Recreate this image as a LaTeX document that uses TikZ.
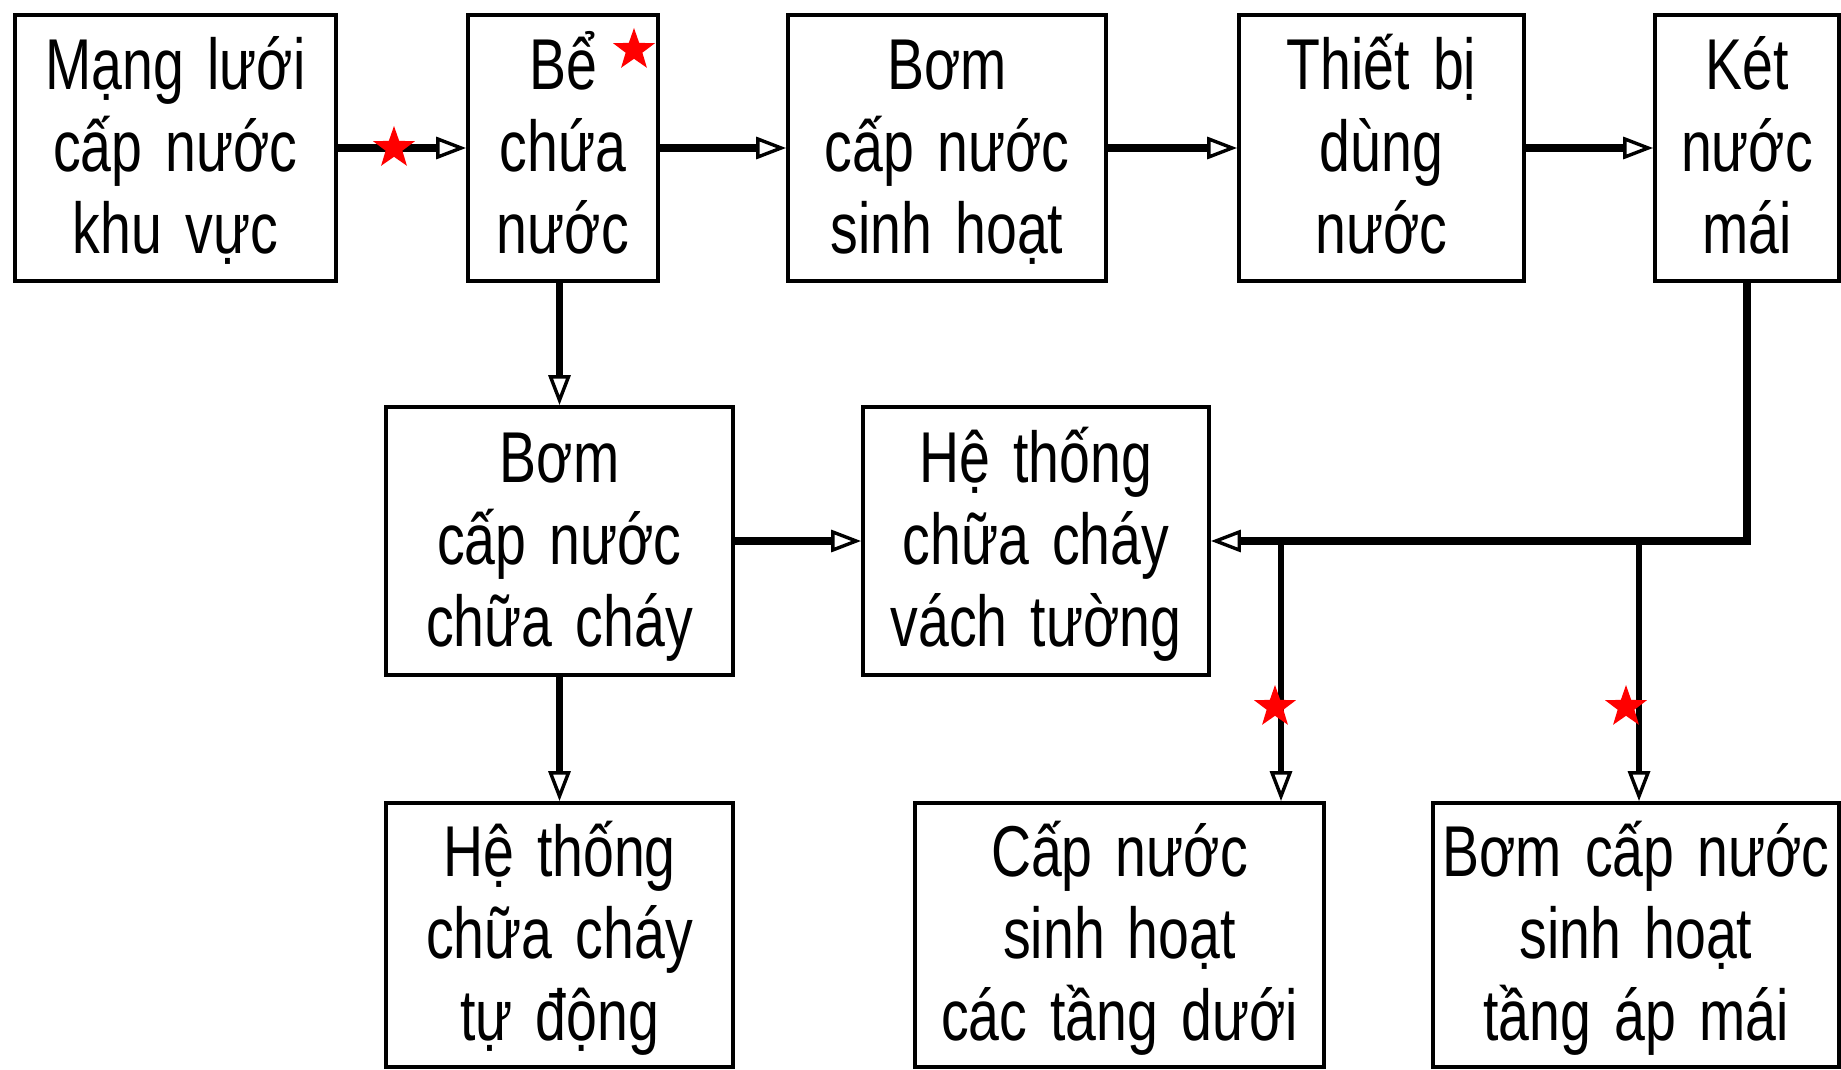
\documentclass[tikz,border=0pt]{standalone}
\usepackage{fontspec}
\setmainfont{Liberation Sans}[FakeStretch=0.77,WordSpace=1.5]
\usetikzlibrary{arrows.meta,shapes.geometric}
\begin{document}
\begin{tikzpicture}[x=0.5pt,y=-0.5pt,
  box/.style={draw,line width=1.9pt,rectangle,inner sep=0pt,align=center,
    font=\fontsize{36}{41}\selectfont,text height=118pt,text depth=13pt},
  tipo/.style={-{Triangle[open,length=15pt,width=11pt,line width=1.7pt]}},
  flow/.style={tipo,line width=3.8pt},
  branch/.style={tipo,line width=2.8pt},
  redstar/.style={star,star points=5,star point ratio=2.5,fill=red,draw=none,
    minimum size=22pt,inner sep=0pt}]
\useasboundingbox (0,0) rectangle (1841,1070);
\fill[white] (0,0) rectangle (1841,1070);

% top row
\node[box,minimum width=160.5pt,minimum height=133pt] (A) at (175.5,148) {Mạng lưới\\cấp nước\\khu vực};
\node[box,minimum width=95pt,minimum height=133pt] (B) at (563,148) {Bể\\chứa\\nước};
\node[box,minimum width=159pt,minimum height=133pt] (C) at (947,148) {Bơm\\cấp nước\\sinh hoạt};
\node[box,minimum width=142.5pt,minimum height=133pt] (D) at (1381.5,148) {Thiết bị\\dùng\\nước};
\node[box,minimum width=92pt,minimum height=133pt] (E) at (1747,148) {Két\\nước\\mái};

% middle row
\node[box,minimum width=173.5pt,minimum height=134pt] (F) at (559.5,541) {Bơm\\cấp nước\\chữa cháy};
\node[box,minimum width=173pt,minimum height=134pt] (G) at (1036,541) {Hệ thống\\chữa cháy\\vách tường};

% bottom row
\node[box,minimum width=173.5pt,minimum height=132pt] (H) at (559.5,935) {Hệ thống\\chữa cháy\\tự động};
\node[box,minimum width=204.5pt,minimum height=132pt] (I) at (1119.5,935) {Cấp nước\\sinh hoạt\\các tầng dưới};
\node[box,minimum width=203pt,minimum height=132pt] (J) at (1636,935) {Bơm cấp nước\\sinh hoạt\\tầng áp mái};

% connectors
\draw[flow] (A) -- (B);
\draw[flow] (B) -- (C);
\draw[flow] (C) -- (D);
\draw[flow] (D) -- (E);
\draw[flow,line width=3.2pt] (B.south -| F.north) -- (F.north);
\draw[flow,line width=3.2pt] (F) -- (H);
\draw[flow] (F) -- (G);
\draw[flow] (E.south) |- (G.east);
\coordinate (j1) at (1281,541);
\coordinate (j2) at (1639,541);
\draw[branch] (j1) -- (j1 |- I.north);
\draw[branch] (j2) -- (j2 |- J.north);

% markers
\node[redstar] (s1) at (394,148) {};
\node[redstar] (s2) at (634,50) {};
\node[redstar] (s3) at (1275,707) {};
\node[redstar] (s4) at (1626,707) {};
\end{tikzpicture}
\end{document}
